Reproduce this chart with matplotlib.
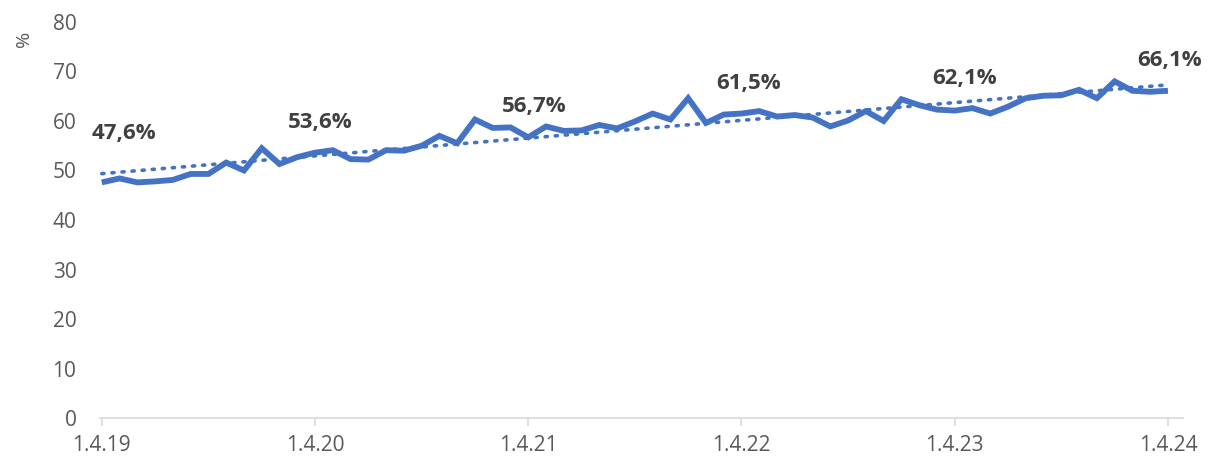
import numpy as np
import matplotlib
matplotlib.use("Agg")
from matplotlib import pyplot as plt

# monthly share, 1.4.19 .. 1.4.24
osuus = [47.6, 48.4, 47.6, 47.8, 48.1, 49.3, 49.3, 51.6, 50.0, 54.5,
         51.3, 52.7, 53.6, 54.1, 52.3, 52.2, 54.1, 54.0, 55.0, 57.0,
         55.5, 60.3, 58.6, 58.7, 56.7, 58.9, 58.0, 58.1, 59.2, 58.5,
         59.9, 61.5, 60.3, 64.6, 59.6, 61.3, 61.5, 62.0, 60.9, 61.2,
         60.7, 58.9, 60.1, 62.0, 60.0, 64.4, 63.2, 62.3, 62.1, 62.6,
         61.5, 62.9, 64.6, 65.1, 65.2, 66.3, 64.6, 68.0, 66.1, 65.9,
         66.1]
tick_labels = ["1.4.19", "1.4.20", "1.4.21", "1.4.22", "1.4.23", "1.4.24"]
label_idx = [0, 12, 24, 36, 48, 60]
label_text = ["47,6%", "53,6%", "56,7%", "61,5%", "62,1%", "66,1%"]
label_offset = [(16, 35), (4, 22), (4, 22), (5, 22), (7, 23), (1, 22)]

plt.rcParams['font.family'] = ['Open Sans', 'DejaVu Sans']
sininen = '#4472C4'

x = np.arange(len(osuus))
fig = plt.figure(figsize=(12.11, 4.57), dpi=100)
ax = fig.add_axes([0.0826, 0.0853, 0.8943, 0.8666])

k, b = np.polyfit(x, osuus, 1)
ax.plot(x, k * x + b, color=sininen, lw=2.6, linestyle=(0, (0.6, 2.2)),
        dash_capstyle='round')
ax.plot(x, osuus, color=sininen, lw=4.2, solid_joinstyle='miter',
        solid_capstyle='butt')

for i, t, off in zip(label_idx, label_text, label_offset):
    ax.annotate(t, (x[i], osuus[i]), xytext=off, textcoords='offset points',
                ha='center', va='center', fontsize=16, fontweight='bold',
                color='#404040')

ax.set_xlim(-0.1, 60.85)
ax.set_ylim(0, 80)
ax.set_yticks(range(0, 81, 10))
ax.set_xticks(label_idx)
ax.set_xticklabels(tick_labels)
for s in ['top', 'right', 'left']:
    ax.spines[s].set_visible(False)
ax.spines['bottom'].set_color('#d9d9d9')
ax.spines['bottom'].set_linewidth(1.2)
ax.tick_params(axis='x', colors='#d9d9d9', length=6, width=1.2, labelcolor='#595959',
               labelsize=15, pad=6)
ax.tick_params(axis='y', length=0, labelcolor='#595959', labelsize=15, pad=17)

fig.text(0.02, 0.915, '%', rotation=90, ha='center', va='center',
         fontsize=14, color='#595959')

fig.savefig('out.png', dpi=100)
